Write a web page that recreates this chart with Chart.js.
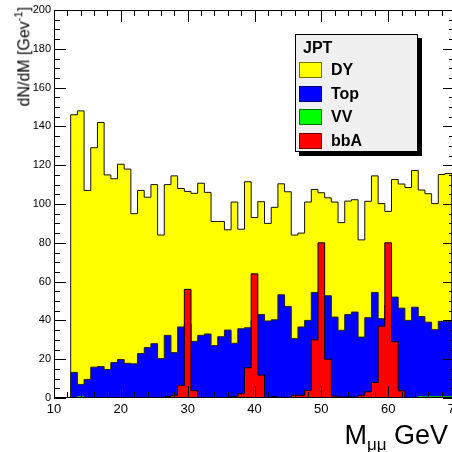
<!DOCTYPE html>
<html>
<head>
<meta charset="utf-8">
<script src="https://cdn.jsdelivr.net/npm/chart.js@4.4.1/dist/chart.umd.min.js"></script>
<style>
  html, body { margin: 0; padding: 0; background: #fff; overflow: hidden; }
  #wrap { position: relative; width: 452px; height: 452px; overflow: hidden; background: #fff;
          font-family: "Liberation Sans", Arial, sans-serif; color: #000; }
  #c { position: absolute; left: 0; top: 0; }
  #ytitle { position: absolute; left: 9px; top: 7px; font-size: 16px; line-height: 18px;
            writing-mode: vertical-rl; transform: rotate(180deg); white-space: nowrap; }
  #ytitle sup { font-size: 11px; }
  #xtitle { position: absolute; right: 4px; top: 422px; font-size: 27px; line-height: 27px; white-space: nowrap; }
  #xtitle sub { font-size: 17px; }
  #legend { position: absolute; left: 295px; top: 34px; width: 121px; height: 116px;
            background: #f0f0f0; border: 1px solid #000; box-shadow: 4px 4px 0 #000; }
  #legend .title { position: absolute; left: 7px; top: 3px; font-weight: bold; font-size: 16px; line-height: 20px; }
  #legend .sw { position: absolute; left: 3px; width: 21px; height: 14px; border: 1px solid rgba(0,0,0,0.55); }
  #legend .lab { position: absolute; left: 35px; font-weight: bold; font-size: 16px; line-height: 18px; }
</style>
</head>
<body>
<div id="wrap">
  <canvas id="c" width="470" height="452"></canvas>
  <div id="ytitle">dN/dM [Gev<sup>-1</sup>]</div>
  <div id="xtitle">M<sub>μμ</sub> GeV</div>
  <div id="legend"><div class="title">JPT</div></div>
</div>
<script>
// bin centres (GeV), one bin per GeV
const massBins = [13, 14, 15, 16, 17, 18, 19, 20, 21, 22, 23, 24, 25, 26, 27, 28, 29, 30, 31, 32,
  33, 34, 35, 36, 37, 38, 39, 40, 41, 42, 43, 44, 45, 46, 47, 48, 49, 50, 51, 52,
  53, 54, 55, 56, 57, 58, 59, 60, 61, 62, 63, 64, 65, 66, 67, 68, 69];

const dyValues = [146, 148, 107, 129, 142, 115, 113, 120.5, 118, 95,
  107, 103.5, 110, 84, 110, 114.5, 108, 106.5, 105.5, 110.7,
  106, 91, 91, 86.7, 101, 87, 111.5, 93, 101.2, 90,
  98.3, 110.4, 106.3, 84, 85, 101, 107.5, 105.8, 103.2, 101,
  90.4, 101.5, 102.2, 81.5, 101.4, 114.5, 100.2, 96.2, 112.6, 110.3,
  108.5, 117.3, 107.2, 105.3, 100.2, 115.2, 115.7];

const topValues = [13.2, 7, 9.6, 15.9, 16.2, 14.7, 18.3, 19.8, 17.9, 17.6,
  22.9, 26, 28, 20.3, 32.3, 23.4, 36.6, 38, 29.2, 32.3,
  33, 27, 31.6, 35, 28.2, 35.7, 36.2, 40, 43, 39.7,
  40.3, 53.2, 47.2, 30.6, 36.6, 40, 54.4, 50, 52.7, 41.7,
  34.9, 43, 44.3, 31.4, 41.4, 54.4, 40.9, 48, 52, 46.3,
  40, 46.8, 42, 39.1, 35.2, 39.5, 39.5];

const vvValues = [0, 0.8, 0, 0, 0, 0, 0, 0, 0, 0,
  0, 0, 0, 0, 0, 0, 0, 0, 0, 0,
  0, 0, 0, 0, 0, 0, 0, 0, 0, 0,
  0, 0, 0, 0, 0, 0, 0, 0, 0, 0,
  0, 0, 0, 0, 0, 0, 0, 0, 0, 0,
  0, 0, 0.8, 0.8, 0.8, 0.8, 0.8];

const bbaValues = [0, 0, 0, 0, 0, 0, 0, 0, 0, 0,
  0, 0, 0, 0, 0.7, 1.4, 6.5, 56, 3.8, 0,
  0, 0, 0.3, 0.3, 0.8, 2.2, 15.6, 64, 11.8, 0,
  0.7, 0.3, 0.3, 1.4, 1.4, 3.9, 30, 80, 20, 1,
  0.5, 0.5, 0.5, 1.4, 3.2, 8, 37, 80, 29, 3.7,
  0, 0, 0, 0, 0, 0, 0];

const seriesNames = ['DY', 'Top', 'VV', 'bbA'];
const seriesColors = ['#ffff00', '#0000ff', '#00ff00', '#ff0000'];
const xTicks = [10, 20, 30, 40, 50, 60, 70];
const yTicks = [0, 20, 40, 60, 80, 100, 120, 140, 160, 180, 200];

// turn bin contents into a closed step outline (points on bin edges)
function histPoints(values) {
  const w = massBins[1] - massBins[0];
  const pts = [{x: massBins[0] - w / 2, y: 0}];
  values.forEach((v, i) => pts.push({x: massBins[i] - w / 2, y: v}));
  const last = massBins[massBins.length - 1] + w / 2;
  pts.push({x: last, y: values[values.length - 1]});
  pts.push({x: last, y: 0});
  return pts;
}

function histDataset(i, values, line) {
  return {
    label: seriesNames[i],
    data: histPoints(values),
    backgroundColor: seriesColors[i],
    borderColor: line,
    borderWidth: 1,
    fill: 'origin',
    stepped: true,
    pointRadius: 0,
    tension: 0
  };
}

// ROOT style frame with inward ticks on all four sides
const frameTicks = {
  id: 'frameTicks',
  afterDatasetsDraw(chart) {
    const {ctx, chartArea: a, scales: {x, y}} = chart;
    ctx.save();
    ctx.strokeStyle = '#000';
    ctx.lineWidth = 1;
    ctx.beginPath();
    for (let i = 0; i < xTicks.length - 1; i++) {
      for (let k = 0; k < 5; k++) {
        const v = xTicks[i] + k * (xTicks[i + 1] - xTicks[i]) / 5;
        const px = Math.round(x.getPixelForValue(v)) + 0.5;
        const len = k === 0 ? 12 : 6;
        ctx.moveTo(px, a.bottom); ctx.lineTo(px, a.bottom - len);
        ctx.moveTo(px, a.top); ctx.lineTo(px, a.top + len);
      }
    }
    for (let i = 0; i < yTicks.length - 1; i++) {
      for (let k = 0; k < 4; k++) {
        const v = yTicks[i] + k * (yTicks[i + 1] - yTicks[i]) / 4;
        const py = Math.round(y.getPixelForValue(v)) + 0.5;
        const len = k === 0 ? 12 : 6;
        ctx.moveTo(a.left, py); ctx.lineTo(a.left + len, py);
        ctx.moveTo(a.right, py); ctx.lineTo(a.right - len, py);
      }
    }
    ctx.stroke();
    ctx.strokeRect(a.left + 0.5, a.top + 0.5, a.right - a.left - 1, a.bottom - a.top - 1);
    ctx.restore();
  }
};

const tickFont = {family: '"Liberation Sans", Arial, sans-serif'};

new Chart(document.getElementById('c'), {
  type: 'line',
  data: {
    datasets: [
      histDataset(3, bbaValues, '#000'),
      histDataset(2, vvValues, '#00b000'),
      histDataset(1, topValues, '#222'),
      histDataset(0, dyValues, '#111')
    ]
  },
  options: {
    responsive: false,
    animation: false,
    layout: {padding: {top: 10, right: 15, left: 0, bottom: 0}},
    plugins: {legend: {display: false}, tooltip: {enabled: false}},
    scales: {
      x: {
        type: 'linear', min: 10, max: 70,
        grid: {display: false, drawTicks: false},
        border: {display: false},
        afterBuildTicks: s => { s.ticks = xTicks.map(v => ({value: v})); },
        ticks: {padding: 4, color: '#000', maxRotation: 0, autoSkip: false, font: {...tickFont, size: 13}},
        afterFit: s => { s.height = 54; }
      },
      y: {
        type: 'linear', min: 0, max: 200,
        grid: {display: false, drawTicks: false},
        border: {display: false},
        afterBuildTicks: s => { s.ticks = yTicks.map(v => ({value: v})); },
        ticks: {padding: 3, color: '#000', font: {...tickFont, size: 11}},
        afterFit: s => { s.width = 54; }
      }
    }
  },
  plugins: [frameTicks]
});

// legend box (built from the series arrays)
const legend = document.getElementById('legend');
seriesNames.forEach((name, i) => {
  const top = 27 + i * 23.6;
  const sw = document.createElement('div');
  sw.className = 'sw';
  sw.style.top = top + 'px';
  sw.style.background = seriesColors[i];
  legend.appendChild(sw);
  const lab = document.createElement('div');
  lab.className = 'lab';
  lab.style.top = (top - 1) + 'px';
  lab.textContent = name;
  legend.appendChild(lab);
});
</script>
</body>
</html>
